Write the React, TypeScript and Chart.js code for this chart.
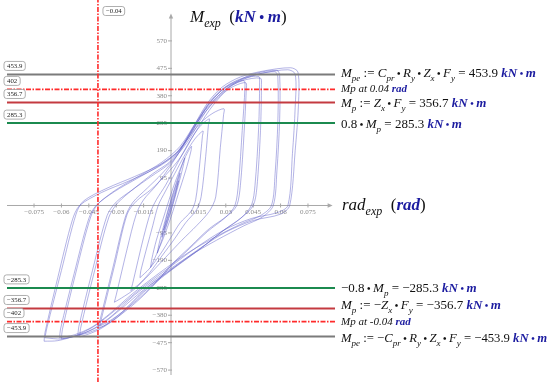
import React, { useEffect, useRef } from "react";
import { Chart, registerables } from "chart.js";
Chart.register(...registerables);

// ---------- data ----------
const xTicks = [-0.075, -0.06, -0.045, -0.03, -0.015, 0.015, 0.03, 0.045, 0.06, 0.075];
const yTicks = [570, 475, 380, 285, 190, 95, -95, -190, -285, -380, -475, -570];
const refLevels = [453.9, 402, 356.7, 285.3, -285.3, -356.7, -402, -453.9];
const refLabels = ["453.9", "402", "356.7", "285.3", "\u2212285.3", "\u2212356.7", "\u2212402", "\u2212453.9"];
const refColors = ["#7b7b7b", "#ff2b2b", "#c43a40", "#1b8a4f", "#1b8a4f", "#c43a40", "#ff2b2b", "#7b7b7b"];
const refDashed = [false, true, false, false, false, false, true, false];
const driftLimit = -0.04;
const driftLimitLabel = "\u22120.04";

// hysteresis laps: [rotation (rad), moment (kN·m)]
const lap1: [number, number][] = [[-0.004, -85], [-0.002, -45], [0, 5], [0.002, 45], [0.004, 85], [0.0035, 70], [0.002, 35], [0, -5], [-0.002, -45], [-0.004, -85]];
const lap2: [number, number][] = [[-0.005, -110], [-0.0045, -95], [-0.002, -30], [0, 15], [0.003, 75], [0.005, 112], [0.0045, 95], [0.002, 30], [0, -15], [-0.003, -75], [-0.005, -110]];
const lap3: [number, number][] = [[-0.0075, -165], [-0.0068, -140], [-0.004, -70], [0, 20], [0.004, 100], [0.0075, 165], [0.0068, 140], [0.004, 70], [0, -20], [-0.004, -100], [-0.0075, -165]];
const lap4: [number, number][] = [[-0.0112, -215], [-0.0105, -185], [-0.008, -120], [-0.004, -40], [0, 40], [0.004, 110], [0.008, 170], [0.0112, 205], [0.0108, 185], [0.008, 120], [0.004, 40], [0, -40], [-0.004, -110], [-0.008, -170], [-0.0112, -215]];
const lap5: [number, number][] = [[-0.017, -250], [-0.0165, -225], [-0.01, -70], [-0.007, 0], [-0.003, 50], [0.002, 110], [0.008, 180], [0.013, 230], [0.0175, 258], [0.0172, 240], [0.0155, 130], [0.0135, 20], [0.011, -20], [0.005, -60], [0, -110], [-0.006, -170], [-0.012, -220], [-0.017, -250]];
const lap6: [number, number][] = [[-0.022, -295], [-0.021, -270], [-0.015, -110], [-0.011, -20], [-0.008, 20], [-0.003, 70], [0.003, 140], [0.01, 220], [0.016, 275], [0.021, 300], [0.0205, 280], [0.019, 170], [0.0165, 30], [0.014, -15], [0.008, -60], [0.002, -115], [-0.005, -175], [-0.012, -235], [-0.018, -275], [-0.022, -295]];
const lap7: [number, number][] = [[-0.031, -335], [-0.03, -310], [-0.024, -150], [-0.019, -30], [-0.015, 20], [-0.008, 70], [0, 140], [0.008, 220], [0.016, 285], [0.023, 320], [0.029, 335], [0.0288, 315], [0.027, 200], [0.0245, 30], [0.021, -20], [0.014, -70], [0.006, -120], [-0.003, -180], [-0.012, -240], [-0.02, -290], [-0.027, -320], [-0.031, -335]];
const lap8: [number, number][] = [[-0.04, -425], [-0.039, -400], [-0.032, -220], [-0.025, -40], [-0.021, 10], [-0.013, 60], [-0.005, 110], [0.003, 170], [0.012, 260], [0.02, 345], [0.028, 400], [0.035, 425], [0.04, 432], [0.0405, 410], [0.039, 260], [0.037, 80], [0.035, 0], [0.03, -40], [0.02, -90], [0.01, -150], [0, -210], [-0.01, -280], [-0.02, -340], [-0.03, -390], [-0.036, -415], [-0.04, -425]];
const lap8b: [number, number][] = [[-0.039, -418], [-0.038, -390], [-0.031, -210], [-0.024, -30], [-0.019, 15], [-0.011, 55], [-0.003, 105], [0.005, 165], [0.013, 250], [0.021, 330], [0.029, 390], [0.035, 415], [0.041, 425], [0.0412, 400], [0.04, 250], [0.038, 70], [0.036, 0], [0.031, -35], [0.021, -80], [0.011, -140], [0.001, -200], [-0.009, -270], [-0.019, -330], [-0.029, -380], [-0.035, -405], [-0.039, -418]];
const lap9: [number, number][] = [[-0.05, -455], [-0.0495, -425], [-0.042, -230], [-0.034, -40], [-0.029, 10], [-0.02, 60], [-0.01, 110], [0, 155], [0.01, 240], [0.02, 345], [0.03, 410], [0.04, 440], [0.048, 447], [0.0485, 425], [0.048, 270], [0.046, 70], [0.044, 0], [0.038, -45], [0.028, -90], [0.015, -155], [0, -225], [-0.015, -300], [-0.028, -380], [-0.038, -425], [-0.045, -445], [-0.05, -455]];
const lap9b: [number, number][] = [[-0.051, -450], [-0.0505, -420], [-0.043, -225], [-0.035, -35], [-0.03, 12], [-0.021, 55], [-0.011, 100], [-0.001, 145], [0.009, 220], [0.019, 325], [0.029, 398], [0.039, 432], [0.049, 441], [0.0495, 418], [0.049, 260], [0.047, 60], [0.045, 0], [0.039, -40], [0.029, -85], [0.016, -150], [0.001, -218], [-0.014, -290], [-0.027, -370], [-0.037, -418], [-0.045, -440], [-0.051, -450]];
const lap10: [number, number][] = [[-0.06, -462], [-0.0595, -430], [-0.052, -230], [-0.044, -40], [-0.04, 5], [-0.03, 55], [-0.018, 100], [-0.005, 150], [0.005, 205], [0.015, 300], [0.025, 375], [0.035, 425], [0.045, 455], [0.058, 468], [0.0595, 450], [0.0595, 300], [0.058, 120], [0.056, 0], [0.05, -40], [0.04, -70], [0.025, -120], [0.01, -175], [-0.005, -240], [-0.02, -310], [-0.032, -380], [-0.042, -425], [-0.052, -452], [-0.06, -462]];
const lap10b: [number, number][] = [[-0.061, -458], [-0.0605, -428], [-0.053, -235], [-0.045, -45], [-0.041, 0], [-0.031, 48], [-0.019, 92], [-0.006, 140], [0.004, 190], [0.014, 285], [0.024, 362], [0.034, 418], [0.046, 452], [0.057, 463], [0.0585, 445], [0.0585, 290], [0.057, 110], [0.055, 0], [0.049, -35], [0.039, -62], [0.024, -110], [0.009, -165], [-0.006, -232], [-0.021, -305], [-0.033, -372], [-0.043, -420], [-0.053, -448], [-0.061, -458]];
const lap11: [number, number][] = [[-0.069, -458], [-0.068, -425], [-0.06, -225], [-0.052, -30], [-0.048, 15], [-0.035, 60], [-0.02, 100], [-0.005, 145], [0.005, 195], [0.012, 270], [0.02, 355], [0.028, 410], [0.038, 445], [0.05, 465], [0.0655, 477], [0.0695, 462], [0.0698, 350], [0.068, 190], [0.065, 0], [0.06, -30], [0.045, -52], [0.03, -92], [0.015, -152], [0, -222], [-0.015, -292], [-0.03, -372], [-0.04, -420], [-0.05, -447], [-0.06, -462], [-0.069, -458]];
const lap11b: [number, number][] = [[-0.0695, -470], [-0.069, -440], [-0.062, -250], [-0.054, -50], [-0.05, 0], [-0.038, 45], [-0.023, 85], [-0.008, 130], [0.003, 180], [0.011, 255], [0.019, 340], [0.027, 398], [0.037, 436], [0.05, 458], [0.064, 470], [0.068, 455], [0.068, 340], [0.0665, 180], [0.064, 0], [0.058, -25], [0.044, -45], [0.029, -85], [0.014, -145], [-0.001, -215], [-0.016, -285], [-0.031, -365], [-0.042, -418], [-0.052, -450], [-0.062, -468], [-0.0695, -470]];

const laps = [lap1, lap2, lap3, lap4, lap5, lap6, lap7, lap8, lap8b, lap9, lap9b, lap10, lap10b, lap11, lap11b];

// ---------- styling helpers ----------
const FAM = '"Liberation Serif", "Times New Roman", serif';
type Run = [string, string];
const BLUE = "#1c1ca0";

const fontFor = (kind: string, size: number) => {
  switch (kind) {
    case "i": return `italic ${size}px ${FAM}`;
    case "s": return `italic ${Math.round(size * 0.68)}px ${FAM}`;
    case "b": return `italic bold ${size}px ${FAM}`;
    case "d": return `bold ${Math.round(size * 0.8)}px ${FAM}`;
    case "bd": return `bold ${Math.round(size * 0.8)}px ${FAM}`;
    default: return `${size}px ${FAM}`;
  }
};

function drawRuns(ctx: CanvasRenderingContext2D, x: number, y: number, runs: Run[], size: number, baseColor = "#111") {
  let cx = x;
  ctx.textBaseline = "alphabetic";
  ctx.textAlign = "left";
  for (const [t, k] of runs) {
    ctx.font = fontFor(k, size);
    ctx.fillStyle = k === "b" || k === "bd" ? BLUE : baseColor;
    const dy = k === "s" ? size * 0.28 : 0;
    ctx.fillText(t, cx, y + dy);
    cx += ctx.measureText(t).width;
  }
  return cx;
}

const kNm: Run[] = [["kN", "b"], [" \u2022 ", "bd"], ["m", "b"]];
const dot: Run = [" \u2022 ", "d"];

const annotations: { y: number; runs: Run[]; size: number }[] = [
  { y: 77, size: 13, runs: [["M", "i"], ["pe", "s"], [" := ", "r"], ["C", "i"], ["pr", "s"], dot, ["R", "i"], ["y", "s"], dot, ["Z", "i"], ["x", "s"], dot, ["F", "i"], ["y", "s"], [" = 453.9 ", "r"], ...kNm] },
  { y: 92, size: 11, runs: [["Mp at 0.04 ", "i"], ["rad", "b"]] },
  { y: 107, size: 13, runs: [["M", "i"], ["p", "s"], [" := ", "r"], ["Z", "i"], ["x", "s"], dot, ["F", "i"], ["y", "s"], [" = 356.7 ", "r"], ...kNm] },
  { y: 128, size: 13, runs: [["0.8", "r"], dot, ["M", "i"], ["p", "s"], [" = 285.3 ", "r"], ...kNm] },
  { y: 292, size: 13, runs: [["\u22120.8", "r"], dot, ["M", "i"], ["p", "s"], [" = \u2212285.3 ", "r"], ...kNm] },
  { y: 309, size: 13, runs: [["M", "i"], ["p", "s"], [" := \u2212", "r"], ["Z", "i"], ["x", "s"], dot, ["F", "i"], ["y", "s"], [" = \u2212356.7 ", "r"], ...kNm] },
  { y: 325, size: 11, runs: [["Mp at -0.04 ", "i"], ["rad", "b"]] },
  { y: 342, size: 12.7, runs: [["M", "i"], ["pe", "s"], [" := \u2212", "r"], ["C", "i"], ["pr", "s"], dot, ["R", "i"], ["y", "s"], dot, ["Z", "i"], ["x", "s"], dot, ["F", "i"], ["y", "s"], [" = \u2212453.9 ", "r"], ...kNm] },
];

function boxLabel(ctx: CanvasRenderingContext2D, x: number, yc: number, text: string) {
  ctx.font = `6.8px ${FAM}`;
  const w = ctx.measureText(text).width + 6;
  const h = 9;
  ctx.beginPath();
  const r = 2.5;
  const y = yc - h / 2;
  ctx.moveTo(x + r, y);
  ctx.lineTo(x + w - r, y);
  ctx.quadraticCurveTo(x + w, y, x + w, y + r);
  ctx.lineTo(x + w, y + h - r);
  ctx.quadraticCurveTo(x + w, y + h, x + w - r, y + h);
  ctx.lineTo(x + r, y + h);
  ctx.quadraticCurveTo(x, y + h, x, y + h - r);
  ctx.lineTo(x, y + r);
  ctx.quadraticCurveTo(x, y, x + r, y);
  ctx.closePath();
  ctx.fillStyle = "#fff";
  ctx.fill();
  ctx.strokeStyle = "#9a9a9a";
  ctx.lineWidth = 0.8;
  ctx.stroke();
  ctx.fillStyle = "#222";
  ctx.textAlign = "left";
  ctx.textBaseline = "middle";
  ctx.fillText(text, x + 3, yc + 0.5);
}

const overlayPlugin = {
  id: "overlay",
  beforeDatasetsDraw(chart: any) {
    const ctx: CanvasRenderingContext2D = chart.ctx;
    const xs = chart.scales.x;
    const ys = chart.scales.y;
    const x0 = xs.getPixelForValue(0);
    const y0 = ys.getPixelForValue(0);
    ctx.save();
    ctx.strokeStyle = "#a8a8a8";
    ctx.fillStyle = "#a8a8a8";
    ctx.lineWidth = 1;
    ctx.beginPath();
    ctx.moveTo(chart.chartArea.left, y0);
    ctx.lineTo(xs.getPixelForValue(0.0885) - 4, y0);
    ctx.stroke();
    const ax = xs.getPixelForValue(0.0885);
    ctx.beginPath();
    ctx.moveTo(ax, y0);
    ctx.lineTo(ax - 5, y0 - 2.2);
    ctx.lineTo(ax - 5, y0 + 2.2);
    ctx.closePath();
    ctx.fill();
    const ay = ys.getPixelForValue(665);
    ctx.beginPath();
    ctx.moveTo(x0, ys.getPixelForValue(-587));
    ctx.lineTo(x0, ay + 4);
    ctx.stroke();
    ctx.beginPath();
    ctx.moveTo(x0, ay);
    ctx.lineTo(x0 - 2.2, ay + 5);
    ctx.lineTo(x0 + 2.2, ay + 5);
    ctx.closePath();
    ctx.fill();
    ctx.font = `7px ${FAM}`;
    ctx.fillStyle = "#8a8a8a";
    ctx.textAlign = "center";
    ctx.textBaseline = "top";
    for (const t of xTicks) {
      const px = xs.getPixelForValue(t);
      ctx.beginPath();
      ctx.moveTo(px, y0 - 2);
      ctx.lineTo(px, y0 + 2);
      ctx.stroke();
      const lbl = (t < 0 ? "\u2212" : "") + String(Math.abs(t));
      ctx.fillText(lbl, px, y0 + 3);
    }
    ctx.textAlign = "right";
    ctx.textBaseline = "middle";
    for (const t of yTicks) {
      const py = ys.getPixelForValue(t);
      ctx.beginPath();
      ctx.moveTo(x0 - 3, py);
      ctx.lineTo(x0 + 1, py);
      ctx.stroke();
      const lbl = (t < 0 ? "\u2212" : "") + String(Math.abs(t));
      ctx.fillText(lbl, x0 - 4, py);
    }
    ctx.restore();
  },
  afterDraw(chart: any) {
    const ctx: CanvasRenderingContext2D = chart.ctx;
    const xs = chart.scales.x;
    const ys = chart.scales.y;
    ctx.save();
    refLevels.forEach((v, i) => boxLabel(ctx, 4, ys.getPixelForValue(v) - 8.5, refLabels[i]));
    boxLabel(ctx, xs.getPixelForValue(driftLimit) + 5, 11, driftLimitLabel);
    const tx = chart.chartArea.right + 6;
    for (const a of annotations) drawRuns(ctx, tx, a.y, a.runs, a.size);
    const x0 = xs.getPixelForValue(0);
    drawRuns(ctx, x0 + 19, 22, [["M", "i"], ["exp", "s"], ["  (", "r"], ["kN", "b"], [" \u2022 ", "bd"], ["m", "b"], [")", "r"]], 17);
    drawRuns(ctx, xs.getPixelForValue(0.0898) + 7, ys.getPixelForValue(0) + 5, [["rad", "i"], ["exp", "s"], ["  (", "r"], ["rad", "b"], [")", "r"]], 17);
    ctx.restore();
  },
};

export default function App() {
  const ref = useRef<HTMLCanvasElement | null>(null);
  useEffect(() => {
    if (!ref.current) return;
    const refSets = refLevels.map((v, i) => ({
      data: [{ x: -0.0898, y: v }, { x: 0.0898, y: v }],
      borderColor: refColors[i],
      borderWidth: refDashed[i] ? 1.6 : 2,
      borderDash: refDashed[i] ? [5, 1.5, 1.5, 1.5] : [],
      pointRadius: 0,
      tension: 0,
      clip: false as any,
    }));
    const vSet = {
      data: [{ x: driftLimit, y: 720 }, { x: driftLimit, y: -640 }],
      borderColor: "#ff2b2b",
      borderWidth: 1.6,
      borderDash: [5, 1.5, 1.5, 1.5],
      pointRadius: 0,
      tension: 0,
      clip: false as any,
    };
    const lapSets = laps.map((lap) => ({
      data: lap.map(([x, y]) => ({ x, y })),
      borderColor: "rgba(95,95,200,0.6)",
      borderWidth: 0.8,
      pointRadius: 0,
      tension: 0.3,
    }));
    const chart = new Chart(ref.current, {
      type: "line",
      data: { datasets: [vSet, ...refSets, ...lapSets] as any },
      options: {
        responsive: false,
        animation: false,
        parsing: false as any,
        layout: { padding: { left: 7, right: 215, top: 10, bottom: 7 } },
        plugins: { legend: { display: false }, tooltip: { enabled: false } },
        scales: {
          x: { type: "linear", min: -0.0898, max: 0.0898, display: false },
          y: { type: "linear", min: -587, max: 677, display: false },
        },
      },
      plugins: [overlayPlugin],
    });
    return () => chart.destroy();
  }, []);
  return (
    <div style={{ position: "absolute", left: 0, top: 0, width: 550, height: 382, background: "#fff" }}>
      <canvas ref={ref} width={550} height={382} style={{ display: "block" }} />
    </div>
  );
}
